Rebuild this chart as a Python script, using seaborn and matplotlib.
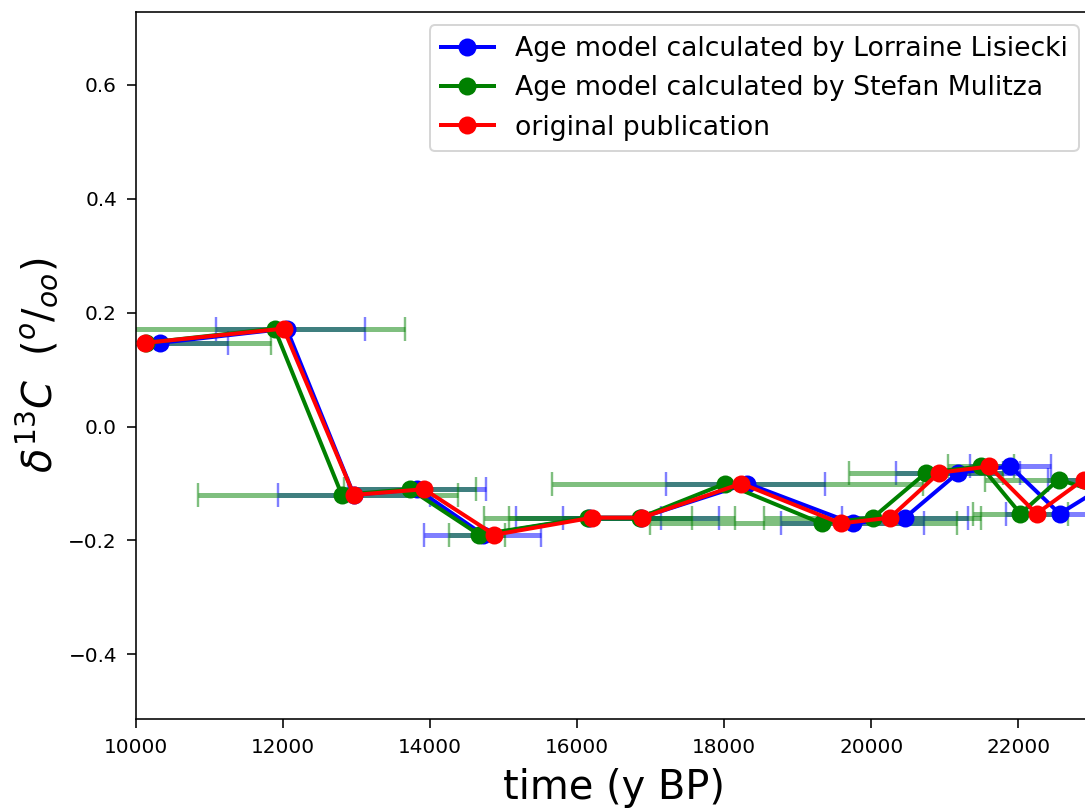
import numpy as np
import pandas as pd
import matplotlib
matplotlib.use("Agg")
import matplotlib.pyplot as plt
import seaborn as sns

# ---- data ----
d13c = [0.147, 0.172, -0.12, -0.11, -0.19, -0.16, -0.16, -0.10, -0.17, -0.16,
        -0.081, -0.07, -0.153, -0.093, -0.15]

age_lisiecki = [10328, 12048, 12962, 13822, 14723, 16157, 16867, 18314, 19747,
                20457, 21180, 21891, 22560, 23310, 24200]
age_lisiecki_lo = [9400, 11092, 11925, 12880, 13918, 15174, 15802, 17208, 18777,
                   19596, 20335, 21345, 21836, 22400, 23300]
age_lisiecki_hi = [11256, 13113, 14000, 14765, 15502, 17140, 17932, 19365, 20717,
                   21318, 22025, 22437, 23284, 24200, 25100]

age_mulitza = [10137, 11884, 12799, 13727, 14669, 16140, 16853, 18014, 19324,
               20020, 20744, 21495, 22027, 22546, 23950]
age_mulitza_lo = [8444, 9900, 10847, 12826, 14259, 14737, 15078, 15653, 16990,
                  18545, 19693, 21044, 21385, 21550, 23000]
age_mulitza_hi = [11830, 13659, 14382, 14628, 15024, 17563, 18150, 20703, 21168,
                  21495, 21795, 21946, 22670, 23542, 24900]

age_original = [10123, 12007, 12962, 13918, 14874, 16198, 16880, 18232, 19584,
                20253, 20922, 21604, 22246, 22887, 23750]

labels = ["Age model calculated by Lorraine Lisiecki",
          "Age model calculated by Stefan Mulitza",
          "original publication"]
colors = ["blue", "green", "red"]

x_ticks = [10000, 12000, 14000, 16000, 18000, 20000, 22000]
y_ticks = [-0.4, -0.2, 0.0, 0.2, 0.4, 0.6]

DPI = 144
fig = plt.figure(figsize=(1085 / DPI, 808 / DPI), dpi=DPI)
ax = fig.add_axes([136 / 1085, 1 - 719 / 808, (1092 - 136) / 1085, (719 - 12) / 808])

# horizontal age uncertainty bars
for ages, lo, hi, c in [(age_lisiecki, age_lisiecki_lo, age_lisiecki_hi, "blue"),
                        (age_mulitza, age_mulitza_lo, age_mulitza_hi, "green")]:
    a = np.array(ages)
    xerr = np.vstack([a - np.array(lo), np.array(hi) - a])
    ax.errorbar(a, d13c, xerr=xerr, fmt="none", ecolor=c, alpha=0.5,
                elinewidth=2.5, capsize=6, capthick=1.2, zorder=1)

for ages, lab, c in zip([age_lisiecki, age_mulitza, age_original], labels, colors):
    df = pd.DataFrame({"age": ages, "d13c": d13c})
    sns.lineplot(data=df, x="age", y="d13c", ax=ax, color=c, label=lab,
                 marker="o", markersize=8, markeredgecolor=c, markeredgewidth=1,
                 linewidth=2, sort=False, estimator=None, zorder=3)

ax.set_xlim(10000, 23000)
ax.set_ylim(-0.5135, 0.728)
ax.set_xticks(x_ticks)
ax.set_yticks(y_ticks)
ax.tick_params(labelsize=10, length=4.5, pad=5)
ax.set_xlabel("time (y BP)", fontsize=20, labelpad=5.5)
ax.set_ylabel(r"$\delta^{13}C$  $(^o/_{oo})$", fontsize=20)
ax.legend(loc="upper right", fontsize=13.3)

fig.savefig("out.png", dpi=DPI)
